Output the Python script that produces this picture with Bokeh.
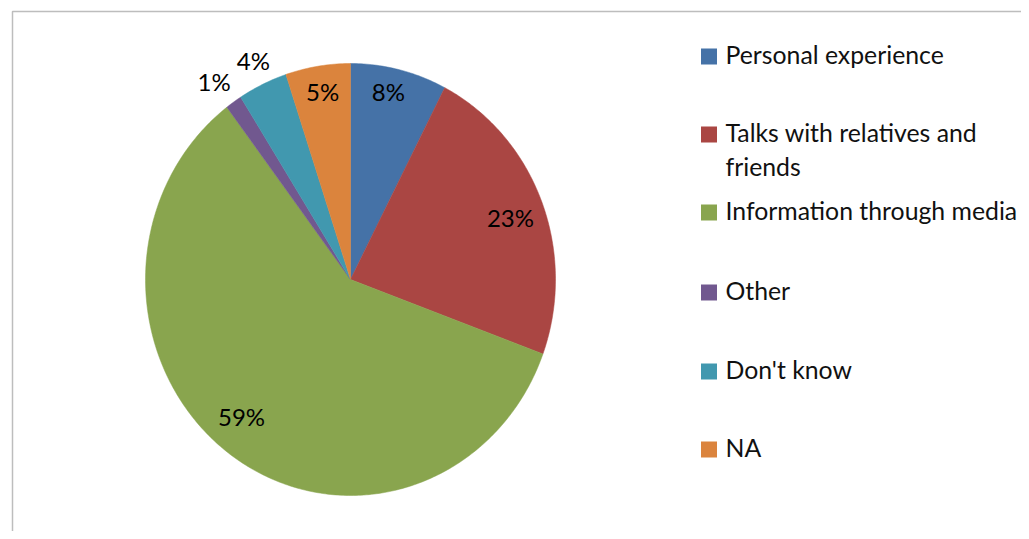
import numpy as np
from bokeh.plotting import figure
from bokeh.models import Range1d, ColumnDataSource
from bokeh.core.properties import value
from bokeh.embed import file_html
from bokeh.resources import INLINE

# ---- data ----
categories = ["Personal experience", "Talks with relatives and\nfriends",
              "Information through media", "Other", "Don't know", "NA"]
shares = [7.6, 23.0, 59.1, 1.3, 3.9, 5.1]
labels = ["8%", "23%", "59%", "1%", "4%", "5%"]
colors = ["#4572A7", "#AA4643", "#89A54E", "#71588F", "#4198AF", "#DB843D"]

# ---- layout (page pixel coordinates) ----
W, H = 1021, 531
FONT = "Lato"
cx, cy, rx, ry = 350, 279, 205, 216
label_r = [0.89, 0.832, 0.826, 1.134, 1.118, 0.883]     # radial position of labels
label_dt = [-1.7, 0.9, 3.5, -1.2, 0.3, 0.3]              # angular nudge, degrees

p = figure(width=W, height=H, output_backend="svg", toolbar_location=None,
           x_range=Range1d(0, W), y_range=Range1d(H, 0),
           min_border=0, outline_line_color=None, background_fill_color="white")
p.axis.visible = False
p.grid.visible = False

# frame of the chart area
p.line([12, 12, W], [H, 11, 11], line_color="#BDBDBD", line_width=1.5)

# pie slices (clockwise from 12 o'clock)
total = sum(shares)
cum = np.concatenate([[0], np.cumsum(shares)]) / total * 2 * np.pi
xs, ys = [], []
for a0, a1 in zip(cum[:-1], cum[1:]):
    t = np.linspace(a0, a1, max(int((a1 - a0) * 80), 4))
    xs.append(np.concatenate([[cx], cx + rx * np.sin(t)]))
    ys.append(np.concatenate([[cy], cy - ry * np.cos(t)]))
p.patches(xs, ys, fill_color=colors, line_color=colors, line_width=0.5)

# slice labels
mid = (cum[:-1] + cum[1:]) / 2 + np.radians(label_dt)
lx = cx + rx * np.array(label_r) * np.sin(mid)
ly = cy - ry * np.array(label_r) * np.cos(mid)
p.text(lx, ly, text=labels, text_font=value(FONT), text_font_size="24px",
       text_color="black", text_align="center", text_baseline="middle")

# legend
leg_y = [56, 134, 212, 292, 371, 449]
src = ColumnDataSource(dict(x=[708.5] * 6, y=leg_y, c=colors, t=categories,
                            tx=[725] * 6, ty=[yy - 16.5 for yy in leg_y]))
p.rect("x", "y", width=16, height=16, fill_color="c", line_color=None, source=src)
p.text("tx", "ty", text="t", source=src, text_font=value(FONT), text_font_size="24.8px",
       text_color="#111111", text_align="left", text_baseline="top",
       text_line_height=1.18)

open("out.html", "w").write(file_html(p, INLINE))
